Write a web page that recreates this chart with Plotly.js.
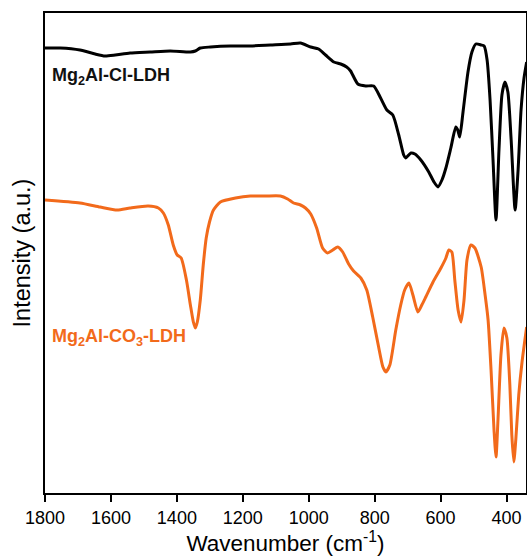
<!DOCTYPE html>
<html>
<head>
<meta charset="utf-8">
<script src="https://cdn.plot.ly/plotly-3.0.1.min.js"></script>
<style>html,body{margin:0;padding:0;background:#fff;}#chart{width:527px;height:557px;}</style>
</head>
<body>
<div id="chart"></div>
<script>
// Wavenumbers (cm^-1) and intensities (a.u.)
const clWave = [1800,1754,1694,1648,1618,1587,1542,1481,1420,1359,1344,1329,1298,1238,1177,1116,1055,1025,994,970,949,924,903,885,873,851,827,803,782,763,745,727,712,706,690,678,660,636,620,608,596,584,569,554,548,542,532,517,505,493,477,468,459,450,441,432,423,414,405,396,386,374,365,356,347,339];
const clInt  = [452,452,450,446,444,445,447,448,449,448,449,452,453,454,454,455,456,457,453,451,445,438,436,433,429,416,414,414,402,390,385,365,345,342,347,346,340,328,318,313,320,332,352,373,370,363,388,428,448,456,455,454,440,400,340,280,350,405,418,408,360,290,330,390,422,438];
const co3Wave = [1800,1694,1633,1581,1542,1487,1456,1441,1426,1411,1399,1387,1371,1359,1350,1344,1338,1329,1320,1311,1301,1289,1268,1222,1177,1131,1086,1064,1046,1025,1010,994,976,958,943,927,912,897,879,864,842,824,806,788,775,766,754,736,721,709,696,684,669,657,645,623,599,584,575,566,557,547,538,529,520,508,496,477,465,456,447,438,432,426,417,408,399,390,384,378,372,363,353,339];
const co3Int  = [300,297,293,290,292,294,292,287,275,255,245,242,220,195,178,172,178,200,235,262,278,290,298,302,304,304,304,301,297,295,292,286,272,252,247,250,253,248,236,229,222,210,183,153,133,128,135,170,195,210,217,205,188,195,203,218,232,242,250,248,220,190,178,200,240,255,252,233,205,180,130,70,43,80,145,172,162,115,65,38,60,105,138,173];
const tickVals = [1800,1600,1400,1200,1000,800,600,400];
const labelCl = 'Mg<sub>2</sub>Al-Cl-LDH';
const labelCO3 = 'Mg<sub>2</sub>Al-CO<sub>3</sub>-LDH';

const orange = '#F26A1B';
const traces = [
  {x: clWave, y: clInt, mode: 'lines', line: {color: '#000', width: 3, shape: 'spline', smoothing: 0.6}, hoverinfo: 'skip'},
  {x: co3Wave, y: co3Int, mode: 'lines', line: {color: orange, width: 3, shape: 'spline', smoothing: 0.6}, hoverinfo: 'skip'}
];
const layout = {
  width: 527, height: 557,
  margin: {l: 45, r: 1, t: 13, b: 64},
  paper_bgcolor: '#fff', plot_bgcolor: '#fff',
  showlegend: false,
  font: {family: 'Liberation Sans, Arial, sans-serif', color: '#000'},
  xaxis: {
    range: [1800, 341], tickvals: tickVals, ticktext: tickVals.map(String),
    ticks: 'outside', ticklen: 7, tickwidth: 2, tickcolor: '#000',
    showline: true, mirror: true, linecolor: '#000', linewidth: 2,
    showgrid: false, zeroline: false,
    tickfont: {size: 18, color: '#000'},
    title: {text: 'Wavenumber (cm<sup>-1</sup>)', font: {size: 22.5, color: '#000'}, standoff: 6}
  },
  yaxis: {
    range: [7, 487], showticklabels: false, ticks: '',
    showline: true, mirror: true, linecolor: '#000', linewidth: 2,
    showgrid: false, zeroline: false,
    title: {text: 'Intensity (a.u.)', font: {size: 23.5, color: '#000'}, standoff: 6}
  },
  annotations: [
    {xref: 'paper', yref: 'paper', x: 0.01, y: (493-77)/480, xanchor: 'left', yanchor: 'middle', showarrow: false,
     text: '<b>' + labelCl + '</b>', font: {size: 18, color: '#111'}},
    {xref: 'paper', yref: 'paper', x: 0.01, y: (493-338)/480, xanchor: 'left', yanchor: 'middle', showarrow: false,
     text: '<b>' + labelCO3 + '</b>', font: {size: 18, color: orange}}
  ]
};
Plotly.newPlot('chart', traces, layout, {displayModeBar: false, staticPlot: true});
</script>
</body>
</html>
